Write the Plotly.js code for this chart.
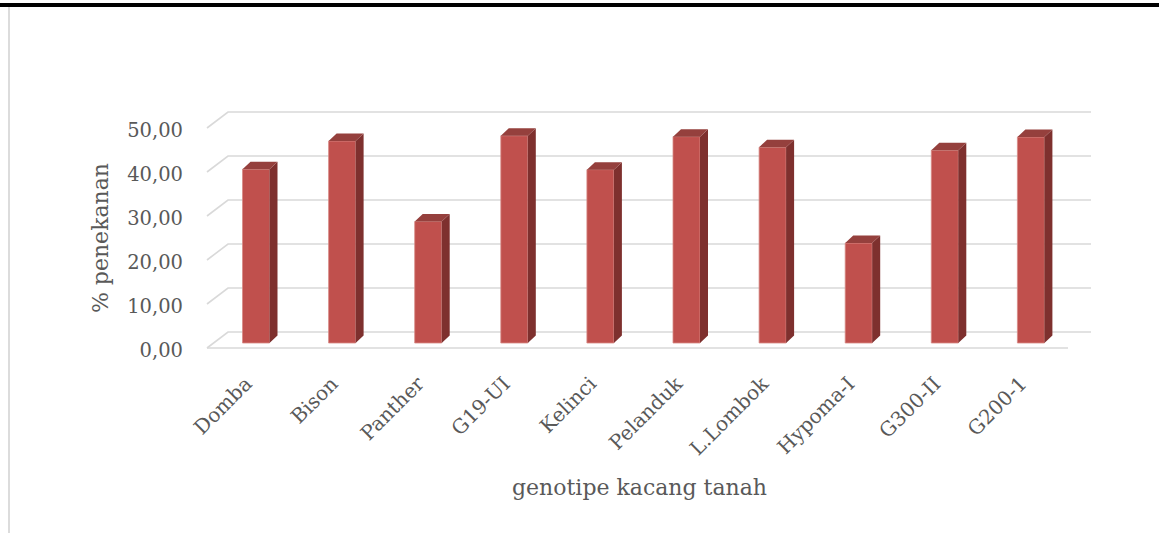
<!DOCTYPE html>
<html><head><meta charset="utf-8">
<script src="https://cdn.plot.ly/plotly-3.0.1.min.js"></script>
<style>
html,body{margin:0;padding:0;background:#fff;overflow:hidden}
#wrap{position:relative;width:1159px;height:533px}
#chart{position:absolute;left:0;top:0;width:1159px;height:533px}
.topbar{position:absolute;left:0;top:3px;width:1159px;height:4px;background:#000}
.leftline{position:absolute;left:8px;top:7px;width:2px;height:526px;background:#dcdcdc}
</style></head><body>
<div id="wrap"><div id="chart"></div><div class="topbar"></div><div class="leftline"></div></div>
<script>
// ---- data ----
const categories = ['Domba','Bison','Panther','G19-UI','Kelinci','Pelanduk','L.Lombok','Hypoma-I','G300-II','G200-1'];
const values = [39.5, 45.9, 27.6, 47.1, 39.4, 46.9, 44.5, 22.7, 43.8, 46.8];
const yTicks = [0, 10, 20, 30, 40, 50];
const xTitle = 'genotipe kacang tanah';
const yTitle = '% penekanan';

// ---- geometry (pixels -> data units) ----
const M = {l:184, r:64, t:105, b:162};
const catPx = 86.1, x0Px = 256;       // pixel of first category centre
const unitPx = 4.4, y0Px = 343;       // pixel of value 0 on bar plane
const plotL = M.l, plotR = 1159 - M.r, plotT = M.t, plotB = 533 - M.b;
const xRange = [(plotL - x0Px) / catPx, (plotR - x0Px) / catPx];
const yRange = [(y0Px - plotB) / unitPx, (y0Px - plotT) / unitPx];
const ux = px => px / catPx, uy = px => px / unitPx;

const idx = categories.map((_, i) => i);
const barW = ux(27);
const depX = ux(8), depY = uy(7.5);

// walls / gridlines (3D look), drawn below the traces
const frontLX = ux(207 - x0Px), backLX = ux(228 - x0Px), backRX = ux(1091 - x0Px), frontRX = ux(1068 - x0Px);
const backDY = uy(y0Px - 332), frontDY = uy(y0Px - 348);
const gridStyle = {color:'#d9d9d9', width:1.6};
const shapes = yTicks.map(v => ({
  type:'path', xref:'x', yref:'y', layer:'below', line:gridStyle,
  path:`M ${frontLX},${v + frontDY} L ${backLX},${v + backDY} L ${backRX},${v + backDY}`
}));
shapes.push({type:'line', xref:'x', yref:'y', layer:'below', line:gridStyle,
  x0:frontLX, x1:frontRX, y0:frontDY, y1:frontDY});

// side and top faces
const sx = [], sy = [], tx = [], ty = [];
idx.forEach(i => {
  const v = values[i], r = i + barW / 2, l = i - barW / 2;
  sx.push(r, r + depX, r + depX, r, r, null);
  sy.push(0, depY, v + depY, v, 0, null);
  tx.push(l, l + depX, r + depX, r, l, null);
  ty.push(v, v + depY, v + depY, v, v, null);
});

const txtColor = '#595959';
const fam = 'DejaVu Serif, Liberation Serif, serif';

const traces = [
  {type:'bar', x:idx, y:values, width:barW, marker:{color:'#C0504D', line:{color:'#D88A87', width:0.8}}, showlegend:false},
  {type:'scatter', mode:'lines', x:sx, y:sy, fill:'toself', fillcolor:'#7E302E', line:{width:0, color:'#7E302E'}, hoverinfo:'skip', showlegend:false},
  {type:'scatter', mode:'lines', x:tx, y:ty, fill:'toself', fillcolor:'#95403D', line:{width:0, color:'#95403D'}, hoverinfo:'skip', showlegend:false}
];

const layout = {
  width:1159, height:533,
  margin:M,
  paper_bgcolor:'#fff', plot_bgcolor:'rgba(0,0,0,0)',
  separators:',.',
  showlegend:false,
  font:{family:fam, color:txtColor},
  shapes:shapes,
  xaxis:{
    type:'linear', range:xRange, tickvals:idx, ticktext:categories, tickangle:-45,
    ticklabelshift:-10, ticklabelstandoff:-4,
    showgrid:false, zeroline:false, showline:false, ticks:'',
    tickfont:{family:fam, size:20, color:txtColor},
    title:{text:xTitle, font:{family:fam, size:22, color:txtColor}, standoff:20},
    fixedrange:true
  },
  yaxis:{
    range:yRange, tickvals:yTicks, tickformat:'.2f', ticklabelshift:7,
    showgrid:false, zeroline:false, showline:false, ticks:'',
    tickfont:{family:fam, size:19.5, color:txtColor},
    title:{text:yTitle, font:{family:fam, size:22, color:txtColor}, standoff:12},
    fixedrange:true
  },
  bargap:0
};

Plotly.newPlot('chart', traces, layout, {staticPlot:true, displayModeBar:false});
</script>
</body></html>
